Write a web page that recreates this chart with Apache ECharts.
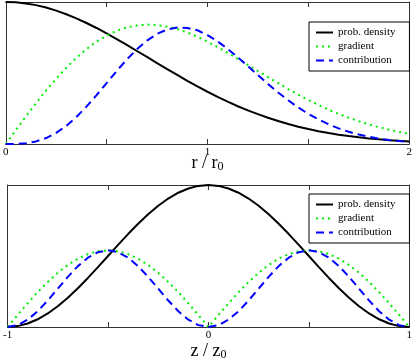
<!DOCTYPE html>
<html>
<head>
    <meta charset="utf-8">
    <title>density / gradient / contribution</title>
    <script src="https://cdn.jsdelivr.net/npm/echarts@6/dist/echarts.min.js"></script>
    <style>
        html, body { margin: 0; padding: 0; background: #fff; }
    </style>
</head>
<body>
    <div id="main" style="width: 415px;height:364px;"></div>
    <script type="text/javascript">

    // ---- top panel: r / r0 from 0 to 2
    var rVals = [0, 0.05, 0.1, 0.15, 0.2, 0.25, 0.3, 0.35, 0.4, 0.45, 0.5, 0.55, 0.6, 0.65, 0.7, 0.75, 0.8, 0.85, 0.9, 0.95,
        1, 1.05, 1.1, 1.15, 1.2, 1.25, 1.3, 1.35, 1.4, 1.45, 1.5, 1.55, 1.6, 1.65, 1.7, 1.75, 1.8, 1.85, 1.9, 1.95, 2];
    var rDensity = [1, 0.9975, 0.990, 0.978, 0.961, 0.939, 0.914, 0.885, 0.852, 0.817, 0.779, 0.739, 0.698, 0.655, 0.613, 0.570, 0.527, 0.486, 0.445, 0.406,
        0.368, 0.332, 0.298, 0.266, 0.237, 0.210, 0.185, 0.162, 0.141, 0.122, 0.105, 0.0905, 0.0773, 0.0657, 0.0556, 0.0468, 0.0392, 0.0326, 0.0271, 0.0223, 0.0183];
    var rGradient = [0, 0.098, 0.194, 0.288, 0.377, 0.460, 0.537, 0.607, 0.668, 0.721, 0.763, 0.797, 0.821, 0.834, 0.841, 0.838, 0.826, 0.810, 0.785, 0.756,
        0.721, 0.683, 0.642, 0.600, 0.557, 0.514, 0.471, 0.429, 0.387, 0.347, 0.309, 0.275, 0.242, 0.212, 0.185, 0.161, 0.138, 0.118, 0.101, 0.085, 0.072];
    var rContribution = [0, 0.0007, 0.0055, 0.0183, 0.0418, 0.078, 0.128, 0.190, 0.263, 0.344, 0.429, 0.514, 0.595, 0.667, 0.728, 0.776, 0.806, 0.820, 0.817, 0.801,
        0.766, 0.723, 0.670, 0.611, 0.549, 0.485, 0.423, 0.363, 0.308, 0.257, 0.212, 0.173, 0.139, 0.110, 0.0859, 0.0664, 0.0508, 0.0383, 0.0286, 0.0210, 0.0152];

    // ---- bottom panel: z / z0 from -1 to 1
    var zVals = [-1, -0.95, -0.9, -0.85, -0.8, -0.75, -0.7, -0.65, -0.6, -0.55, -0.5, -0.45, -0.4, -0.35, -0.3, -0.25, -0.2, -0.15, -0.1, -0.05,
        0, 0.05, 0.1, 0.15, 0.2, 0.25, 0.3, 0.35, 0.4, 0.45, 0.5, 0.55, 0.6, 0.65, 0.7, 0.75, 0.8, 0.85, 0.9, 0.95, 1];
    var zDensity = [0, 0.0062, 0.0245, 0.0545, 0.0955, 0.1464, 0.2061, 0.2730, 0.3455, 0.4218, 0.5, 0.5782, 0.6545, 0.7270, 0.7939, 0.8536, 0.9045, 0.9455, 0.9755, 0.9938,
        1, 0.9938, 0.9755, 0.9455, 0.9045, 0.8536, 0.7939, 0.7270, 0.6545, 0.5782, 0.5, 0.4218, 0.3455, 0.2730, 0.2061, 0.1464, 0.0955, 0.0545, 0.0245, 0.0062, 0];
    var zGradient = [0, 0.0845, 0.1669, 0.2452, 0.3174, 0.3818, 0.4369, 0.4811, 0.5136, 0.5334, 0.54, 0.5334, 0.5136, 0.4811, 0.4369, 0.3818, 0.3174, 0.2452, 0.1669, 0.0845,
        0, 0.0845, 0.1669, 0.2452, 0.3174, 0.3818, 0.4369, 0.4811, 0.5136, 0.5334, 0.54, 0.5334, 0.5136, 0.4811, 0.4369, 0.3818, 0.3174, 0.2452, 0.1669, 0.0845, 0];
    var zContribution = [0, 0.0132, 0.0516, 0.1113, 0.1866, 0.27, 0.3534, 0.4287, 0.4884, 0.5268, 0.54, 0.5268, 0.4884, 0.4287, 0.3534, 0.27, 0.1866, 0.1113, 0.0516, 0.0132,
        0, 0.0132, 0.0516, 0.1113, 0.1866, 0.27, 0.3534, 0.4287, 0.4884, 0.5268, 0.54, 0.5268, 0.4884, 0.4287, 0.3534, 0.27, 0.1866, 0.1113, 0.0516, 0.0132, 0];

    var names = ['prob. density', 'gradient', 'contribution'];
    var topTickLabels = [0, 1, 2];
    var bottomTickLabels = [-1, 0, 1];

    var myChart = echarts.init(document.getElementById('main'));

    var serif = '"Liberation Serif", "DejaVu Serif", serif';
    var frame = '#333';

    function pairs(xs, ys) {
        return xs.map(function (x, i) { return [x, ys[i]]; });
    }

    // 实线 / 点线 / 虚线
    var styles = [
        { color: '#000000', width: 2, type: 'solid' },
        { color: '#00ee00', width: 2, type: [2, 4] },
        { color: '#0000ff', width: 2, type: [8, 5] }
    ];

    function makeSeries(name, idx, xs, ys, axisIdx) {
        return {
            name: name,
            type: 'line',
            xAxisIndex: axisIdx,
            yAxisIndex: axisIdx,
            symbol: 'none',
            silent: true,
            animation: false,
            lineStyle: styles[idx],
            itemStyle: { color: styles[idx].color },
            data: pairs(xs, ys)
        };
    }

    function xAxisFor(grid, pos, min, max, labels, nameText, gap) {
        var ax = {
            type: 'value',
            gridIndex: grid,
            position: pos,
            min: min,
            max: max,
            interval: 0.5,
            splitLine: { show: false },
            axisLine: { show: true, onZero: false, lineStyle: { color: frame, width: 1 } },
            axisTick: { show: true, inside: true, length: 5, lineStyle: { color: frame } },
            axisLabel: { show: false }
        };
        if (labels) {
            ax.axisLabel = {
                show: true,
                margin: 3,
                fontFamily: serif,
                fontSize: 11,
                color: '#000',
                showMinLabel: true,
                showMaxLabel: true,
                formatter: function (v) {
                    return labels.indexOf(v) >= 0 ? String(v) : '';
                }
            };
            ax.name = '{m|' + nameText + ' / ' + nameText + '}{s|0}';
            ax.nameLocation = 'middle';
            ax.nameGap = gap;
            ax.nameMoveOverlap = false;
            ax.nameTextStyle = {
                rich: {
                    m: { fontFamily: serif, fontSize: 18, color: '#000' },
                    s: { fontFamily: serif, fontSize: 12, color: '#000', padding: [8, 0, 0, 0] }
                }
            };
        }
        return ax;
    }

    function yAxisFor(grid, pos) {
        return {
            type: 'value',
            gridIndex: grid,
            position: pos,
            min: 0,
            max: 1,
            splitLine: { show: false },
            axisLine: { show: true, onZero: false, lineStyle: { color: frame, width: 1 } },
            axisTick: { show: false },
            axisLabel: { show: false }
        };
    }

    function legendFor(top) {
        return {
            data: names,
            orient: 'vertical',
            left: 309,
            top: top,
            itemWidth: 17,
            itemHeight: 10,
            itemGap: 3,
            padding: [5, 14, 5, 6],
            borderColor: '#000',
            borderWidth: 1,
            backgroundColor: '#fff',
            selectedMode: false,
            itemStyle: { opacity: 0 },
            textStyle: { fontFamily: serif, fontSize: 11, color: '#000' }
        };
    }

    var option = {
        animation: false,
        backgroundColor: '#fff',
        grid: [
            { left: 5, right: 3.5, top: 2, height: 142 },
            { left: 5, right: 3.5, top: 185, height: 142 }
        ],
        xAxis: [
            xAxisFor(0, 'bottom', 0, 2, topTickLabels, 'r', 9),
            xAxisFor(0, 'top', 0, 2, null),
            xAxisFor(1, 'bottom', -1, 1, bottomTickLabels, 'z', 14),
            xAxisFor(1, 'top', -1, 1, null)
        ],
        yAxis: [
            yAxisFor(0, 'left'),
            yAxisFor(0, 'right'),
            yAxisFor(1, 'left'),
            yAxisFor(1, 'right')
        ],
        legend: [legendFor(22), legendFor(194)],
        series: [
            makeSeries(names[0], 0, rVals, rDensity, 0),
            makeSeries(names[1], 1, rVals, rGradient, 0),
            makeSeries(names[2], 2, rVals, rContribution, 0),
            makeSeries(names[0], 0, zVals, zDensity, 2),
            makeSeries(names[1], 1, zVals, zGradient, 2),
            makeSeries(names[2], 2, zVals, zContribution, 2)
        ]
    };

    myChart.setOption(option);
    </script>
</body>
</html>
